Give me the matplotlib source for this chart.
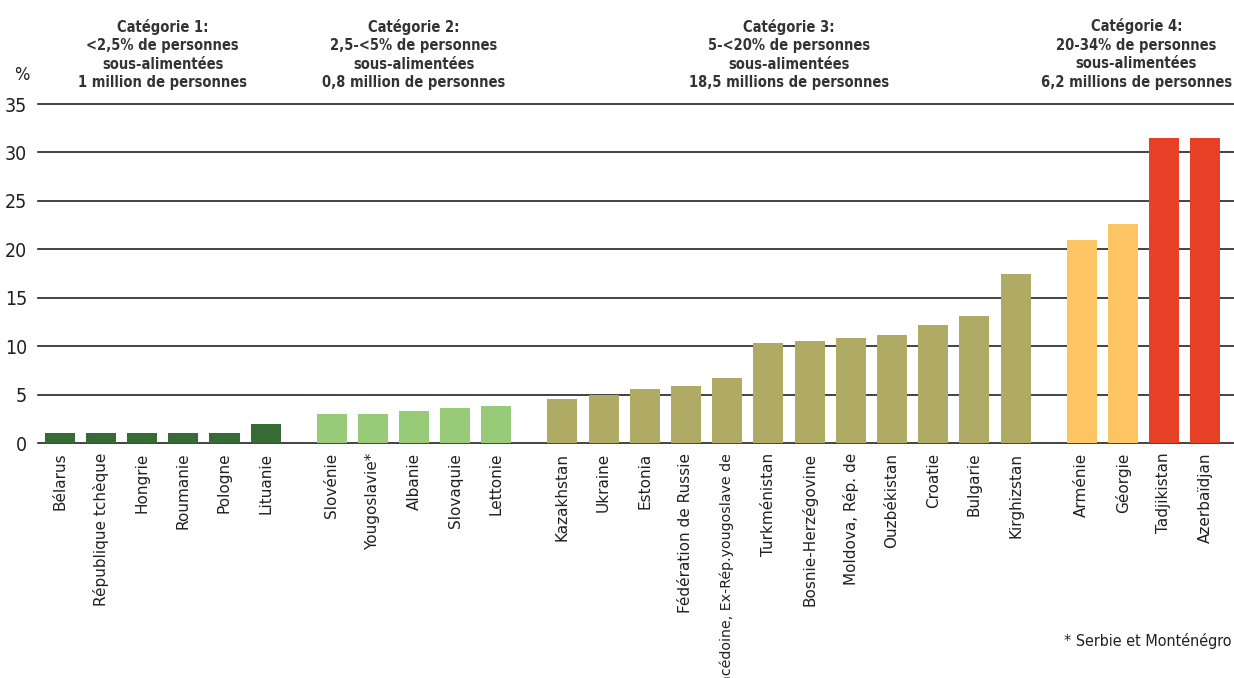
import matplotlib.pyplot as plt

# undernourishment by country, grouped by category (%)
cat1_names = ["Bélarus", "République tchèque", "Hongrie", "Roumanie", "Pologne", "Lituanie"]
cat1_values = [1.0, 1.0, 1.0, 1.0, 1.0, 2.0]

cat2_names = ["Slovénie", "Yougoslavie*", "Albanie", "Slovaquie", "Lettonie"]
cat2_values = [3.0, 3.0, 3.3, 3.6, 3.8]

cat3_names = ["Kazakhstan", "Ukraine", "Estonia", "Fédération de Russie",
              "Macédoine, Ex-Rép.yougoslave de", "Turkménistan", "Bosnie-Herzégovine",
              "Moldova, Rép. de", "Ouzbékistan", "Croatie", "Bulgarie", "Kirghizstan"]
cat3_values = [4.5, 5.0, 5.6, 5.9, 6.7, 10.3, 10.5, 10.8, 11.1, 12.2, 13.1, 17.4]

cat4_names = ["Arménie", "Géorgie", "Tadjikistan", "Azerbaïdjan"]
cat4_values = [21.0, 22.6, 31.5, 31.5]

headers = [
    "Catégorie 1:\n<2,5% de personnes\nsous-alimentées\n1 million de personnes",
    "Catégorie 2:\n2,5-<5% de personnes\nsous-alimentées\n0,8 million de personnes",
    "Catégorie 3:\n5-<20% de personnes\nsous-alimentées\n18,5 millions de personnes",
    "Catégorie 4:\n20-34% de personnes\nsous-alimentées\n6,2 millions de personnes",
]

groups = [
    (cat1_names, cat1_values, ["#376b35"] * 6),
    (cat2_names, cat2_values, ["#97cb78"] * 5),
    (cat3_names, cat3_values, ["#b0ab64"] * 12),
    (cat4_names, cat4_values, ["#fcc463", "#fcc463", "#e64027", "#e64027"]),
]

TEXT = "#231f20"
narrow = dict(family="DejaVu Sans", fontstretch="condensed")

fig = plt.figure(figsize=(12.34, 6.78), dpi=100)
ax = fig.add_axes([0.031, 0.3466, 0.969, 0.5])

gap = 1.6
x = 0.0
positions, labels, centers = [], [], []
for names, values, colors in groups:
    xs = [x + i for i in range(len(names))]
    ax.bar(xs, values, width=0.73, color=colors, zorder=3)
    positions += xs
    labels += names
    centers.append((xs[0] + xs[-1]) / 2)
    x = xs[-1] + gap

ax.set_xlim(-0.52, positions[-1] + 0.7)
ax.set_ylim(0, 35)
ax.set_yticks(range(0, 36, 5))
ax.yaxis.grid(True, color="#222222", linewidth=1.2, zorder=0)
ax.set_axisbelow(True)
for line in ax.get_ygridlines():
    line.set_clip_on(False)
for s in ax.spines.values():
    s.set_visible(False)
ax.tick_params(axis="y", length=0, pad=8, labelcolor=TEXT)
for t in ax.get_yticklabels():
    t.set(fontsize=14, **narrow)
ax.set_xticks(positions)
ax.set_xticklabels(labels, rotation=90, fontsize=11, color=TEXT)
ax.tick_params(axis="x", length=0, pad=7)
# the long Macedonia label is set a touch smaller
for t in ax.get_xticklabels():
    if t.get_text().startswith("Macédoine"):
        t.set_fontsize(10.2)

# category headers above each group; the last one is pinned to the right edge
for i, (cx, h) in enumerate(zip(centers, headers)):
    kw = dict(va="bottom", fontsize=10.5, fontweight="bold", color="#333333",
              linespacing=1.3, multialignment="center", **narrow)
    if i == len(headers) - 1:
        fig.text(1232 / 1234, 1 - 90 / 678, h, ha="right", **kw)
    else:
        ax.text(cx, 1.04, h, transform=ax.get_xaxis_transform(), ha="center", **kw)

fig.text(22 / 1234, 1 - 75 / 678, "%", ha="center", va="center", fontsize=13,
         color=TEXT, **narrow)
fig.text(1232 / 1234, 1 - 641 / 678, "* Serbie et Monténégro", ha="right", va="center",
         fontsize=11.5, color=TEXT, **narrow)

fig.savefig("out.png", dpi=100)
